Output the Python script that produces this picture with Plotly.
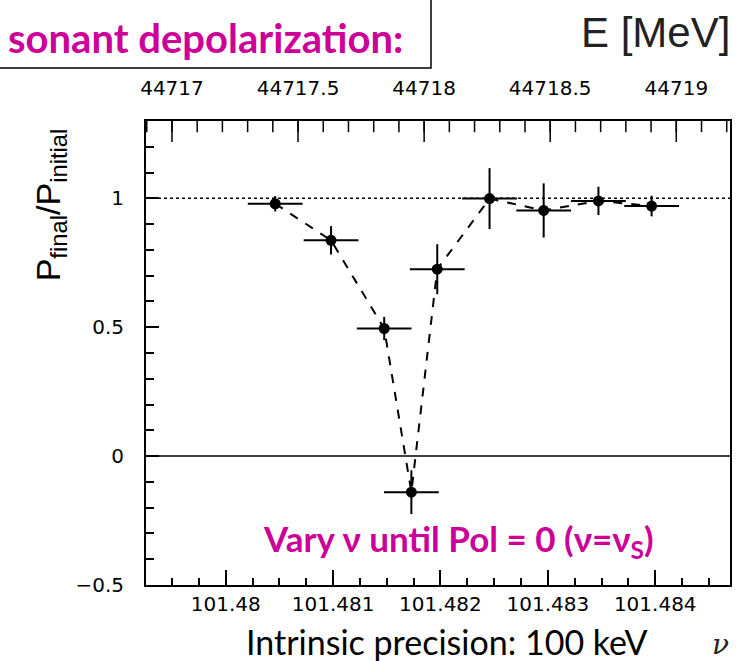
import plotly.graph_objects as go

# ---- data ----
nu = [101.480461, 101.480981, 101.481476, 101.481729, 101.481970,
      101.482457, 101.482961, 101.483471, 101.483966]
pol = [0.979, 0.837, 0.495, -0.140, 0.725, 0.999, 0.953, 0.990, 0.970]
pol_err = [0.03, 0.055, 0.045, 0.085, 0.097, 0.118, 0.105, 0.055, 0.04]
nu_err = [0.000255] * 9

nu_ticks = [101.480, 101.481, 101.482, 101.483, 101.484]
nu_ticktext = ["101.48", "101.481", "101.482", "101.483", "101.484"]
E_ticks = [44717, 44717.5, 44718, 44718.5, 44719]
E_ticktext = ["44717", "44717.5", "44718", "44718.5", "44719"]
y_ticks = [-0.5, 0, 0.5, 1]
y_ticktext = ["\u22120.5", "0", "0.5", "1"]

X_RANGE = [101.479258, 101.484696]
E_RANGE = [44716.897, 44719.213]
Y_RANGE = [-0.5, 1.3]

# minor tick positions (axis decoration only)
nu_minor = [round(101.47925 + i * 0.00025, 6) for i in range(22)]
E_minor = [round(44716.9 + i * 0.1, 2) for i in range(24)]
y_minor = [round(-0.5 + i * 0.1, 2) for i in range(19)]

MAG = "#CC0099"
TICKFONT = dict(family="DejaVu Sans", size=20, color="black")

fig = go.Figure()

fig.add_trace(go.Scatter(x=X_RANGE, y=[1, 1], mode="lines",
                         line=dict(color="black", width=1.5, dash="dot"),
                         showlegend=False, hoverinfo="skip"))
fig.add_trace(go.Scatter(x=X_RANGE, y=[0, 0], mode="lines",
                         line=dict(color="black", width=1.5),
                         showlegend=False, hoverinfo="skip"))
fig.add_trace(go.Scatter(x=nu, y=pol, mode="lines",
                         line=dict(color="black", width=2, dash="dash"),
                         showlegend=False, hoverinfo="skip"))
fig.add_trace(go.Scatter(
    x=nu, y=pol, mode="markers",
    marker=dict(color="black", size=11),
    error_x=dict(type="data", array=nu_err, color="black", thickness=2, width=0),
    error_y=dict(type="data", array=pol_err, color="black", thickness=2, width=0),
    showlegend=False))

# energy-axis tick marks hanging from the top frame (clipped to the plot area,
# so only the inner half of each vertical marker is visible)
for vals, size in [(E_ticks, 30), (E_minor, 16)]:
    fig.add_trace(go.Scatter(
        x=vals, y=[Y_RANGE[1]] * len(vals), xaxis="x2", yaxis="y",
        mode="markers", cliponaxis=True,
        marker=dict(symbol="line-ns", size=size, color="black",
                    line=dict(color="black", width=1.5)),
        showlegend=False, hoverinfo="skip"))

# empty traces so the minor-tick axes get drawn
for xa, ya, xr, yr in [("x3", "y", X_RANGE, [None, None]),
                       ("x", "y3", [None, None], Y_RANGE)]:
    fig.add_trace(go.Scatter(x=xr, y=yr, xaxis=xa, yaxis=ya, mode="lines",
                             showlegend=False, hoverinfo="skip"))

common = dict(showgrid=False, zeroline=False, tickcolor="black", tickwidth=1.5)

fig.update_layout(
    width=740, height=661,
    margin=dict(l=146, r=8, t=121, b=76),
    paper_bgcolor="white", plot_bgcolor="white",
    xaxis=dict(range=X_RANGE, tickvals=nu_ticks, ticktext=nu_ticktext,
               ticks="inside", ticklen=15, showline=True, linecolor="black",
               linewidth=2, tickfont=TICKFONT, ticklabelstandoff=0, **common),
    xaxis3=dict(range=X_RANGE, overlaying="x", side="bottom", anchor="y",
                tickvals=nu_minor, ticks="inside", ticklen=7,
                showticklabels=False, showline=False, **common),
    xaxis2=dict(range=E_RANGE, overlaying="x", side="top", anchor="y",
                tickvals=E_ticks, ticktext=E_ticktext, ticks="",
                showline=True, linecolor="black", linewidth=2,
                tickfont=TICKFONT, ticklabelstandoff=16,
                showgrid=False, zeroline=False),
    yaxis=dict(range=Y_RANGE, tickvals=y_ticks, ticktext=y_ticktext,
               ticks="inside", ticklen=13, showline=True, mirror=True,
               linecolor="black", linewidth=2, tickfont=TICKFONT,
               ticklabelstandoff=16, **common),
    yaxis3=dict(range=Y_RANGE, overlaying="y", side="left", anchor="x",
                tickvals=y_minor, ticks="inside", ticklen=8,
                showticklabels=False, showline=False, **common),
    shapes=[dict(type="rect", xref="paper", yref="paper",
                 x0=-0.26, x1=0.488, y0=1.114, y1=1.27,
                 line=dict(color="black", width=1.5), fillcolor="white",
                 layer="below")],
)

def px2paper(x, y):
    return (x - 146) / 586, (585 - y) / 464

ann = []
x, y = px2paper(406, 38)
ann.append(dict(x=x, y=y, xref="paper", yref="paper", xanchor="right", yanchor="middle",
                text="<b>sonant depolarization:</b>", showarrow=False,
                font=dict(family="Lato", size=40, color=MAG)))
x, y = px2paper(657, 33)
ann.append(dict(x=x, y=y, xref="paper", yref="paper", xanchor="center", yanchor="middle",
                text="E [MeV]", showarrow=False,
                font=dict(family="Liberation Sans", size=42, color="#222")))
x, y = px2paper(460, 540)
ann.append(dict(x=x, y=y, xref="paper", yref="paper", xanchor="center", yanchor="middle",
                text="<b>Vary \u03bd until Pol = 0 (\u03bd=\u03bd<sub>S</sub>)</b>", showarrow=False,
                font=dict(family="Lato", size=35, color=MAG)))
x, y = px2paper(448, 641)
ann.append(dict(x=x, y=y, xref="paper", yref="paper", xanchor="center", yanchor="middle",
                text="Intrinsic precision: 100 keV", showarrow=False,
                font=dict(family="Lato", size=34, color="black")))
x, y = px2paper(733, 644)
ann.append(dict(x=x, y=y, xref="paper", yref="paper", xanchor="right", yanchor="middle",
                text="<i>\u03bd</i>", showarrow=False,
                font=dict(family="DejaVu Serif", size=28, color="#222")))
x, y = px2paper(50, 205)
ann.append(dict(x=x, y=y, xref="paper", yref="paper", xanchor="center", yanchor="middle",
                text="P<sub>final</sub>/P<sub>initial</sub>", showarrow=False, textangle=-90,
                font=dict(family="Liberation Sans", size=34, color="black")))
fig.update_layout(annotations=ann)

fig.write_html("out.html")
